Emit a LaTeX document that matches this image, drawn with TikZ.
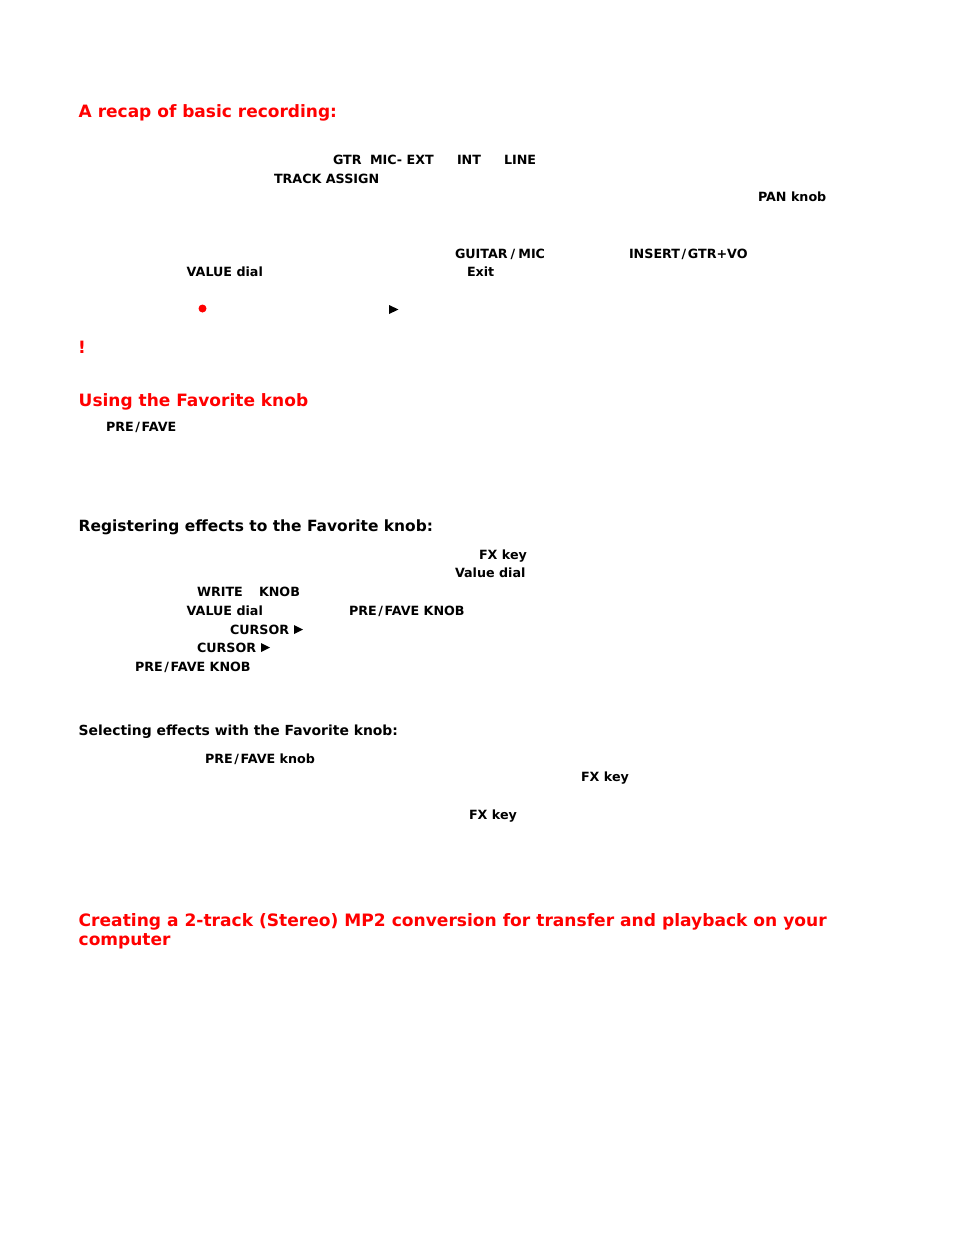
\documentclass[tikz,border=0pt]{standalone}
\usepackage{fontspec}
\setmainfont{DejaVu Sans}[BoldFont={DejaVu Sans Bold}]
\definecolor{headred}{RGB}{255,0,0}
\newcommand{\wideslash}{\kern1.6pt/\kern1.6pt}
\tikzset{
  x=1pt,y=-1pt,
  txt/.style={anchor=base west,inner sep=0pt,outer sep=0pt,font=\bfseries\fontsize{12.7}{14}\selectfont,text=black},
  hd/.style={anchor=base west,inner sep=0pt,outer sep=0pt,font=\bfseries\fontsize{17}{19}\selectfont,text=headred},
  hdl/.style={anchor=base west,inner sep=0pt,outer sep=0pt,font=\bfseries\fontsize{17.08}{19}\selectfont,text=headred},
  sub/.style={anchor=base west,inner sep=0pt,outer sep=0pt,font=\bfseries\fontsize{15.45}{18}\selectfont,text=black},
  subs/.style={anchor=base west,inner sep=0pt,outer sep=0pt,font=\bfseries\fontsize{13.9}{16}\selectfont,text=black},
}
\begin{document}
\begin{tikzpicture}
\useasboundingbox (0,0) rectangle (954,1235);
\node[hd] (h1) at (78.7,117) {A recap of basic recording:};
\node[txt] (a1) at (333,164) {GTR};
\node[txt] (a2) at (370,164) {MIC- EXT};
\node[txt] (a3) at (457,164) {INT};
\node[txt] (a4) at (504,164) {LINE};
\node[txt] (a5) at (274,183) {TRACK ASSIGN};
\node[txt] (a6) at (758,201) {PAN knob};
\node[txt] (b1) at (455,258) {GUITAR\kern3pt/\kern3pt MIC};
\node[txt] (b2) at (629,258) {INSERT\wideslash GTR+VO};
\node[txt] (b3) at (186.7,276) {VALUE dial};
\node[txt] (b4) at (467,276) {Exit};
\fill[headred] (202.5,308.5) circle (4);
\fill[black] (389,305) -- (398.5,309.5) -- (389,314) -- cycle;
\node[hd] (ex) at (78,353) {!};
\node[hd] (h2) at (78.7,406) {Using the Favorite knob};
\node[txt] (c1) at (106,431) {PRE\wideslash FAVE};
\node[sub] (h3) at (78.7,531) {Registering effects to the Favorite knob:};
\node[txt] (d1) at (479,559) {FX key};
\node[txt] (d2) at (455,577) {Value dial};
\node[txt] (d3) at (197,596) {WRITE};
\node[txt] (d4) at (259,596) {KNOB};
\node[txt] (d5) at (186.7,615) {VALUE dial};
\node[txt] (d6) at (349,615) {PRE\wideslash FAVE KNOB};
\node[txt] (d7) at (230,634) {CURSOR};
\fill[black] (294,625) -- (303,629.5) -- (294,634) -- cycle;
\node[txt] (d8) at (197,652) {CURSOR};
\fill[black] (261,643) -- (270,647.5) -- (261,652) -- cycle;
\node[txt] (d9) at (135,671) {PRE\wideslash FAVE KNOB};
\node[subs] (h4) at (78.7,735) {Selecting effects with the Favorite knob:};
\node[txt] (e1) at (205,763) {PRE\wideslash FAVE knob};
\node[txt] (e2) at (581,781) {FX key};
\node[txt] (e3) at (469,819) {FX key};
\node[hdl] (h5) at (78.7,926) {Creating a 2-track (Stereo) MP2 conversion for transfer and playback on your};
\node[hd] (h6) at (78.7,945) {computer};
\end{tikzpicture}
\end{document}
